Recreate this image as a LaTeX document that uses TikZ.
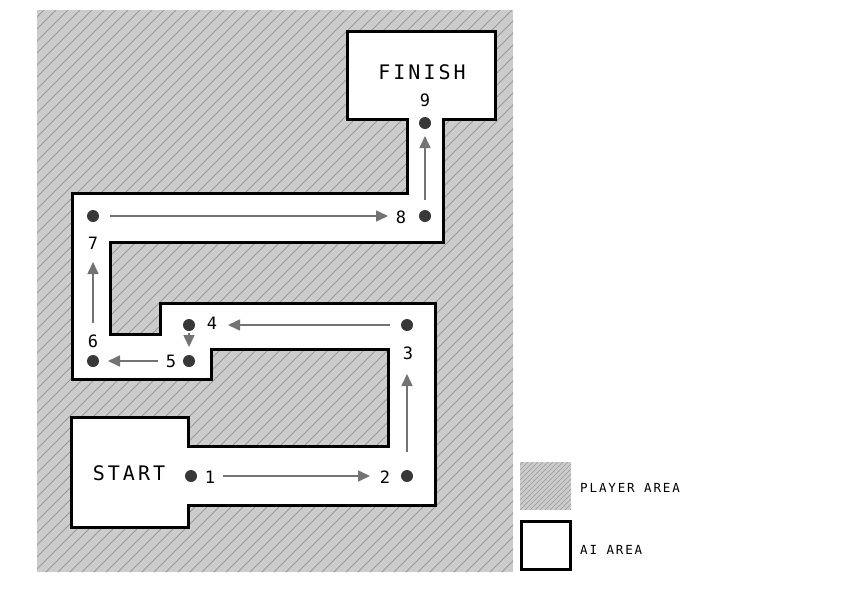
\documentclass[tikz,border=0pt]{standalone}
\usepackage{fontspec}
\setmainfont[LetterSpace=15]{DejaVu Sans Mono}
\usetikzlibrary{arrows.meta}

\tikzset{
  wall/.style={draw=black,line width=3pt,line join=miter,fill=white},
  hatchline/.style={draw=black!40,line width=0.8pt},
  dot/.style={circle,fill=black!78,minimum size=12pt,inner sep=0pt},
  num/.style={font=\fontsize{17}{17}\selectfont,inner sep=0pt},
  big/.style={font=\fontsize{20}{20}\selectfont,inner sep=0pt},
  legend/.style={font=\fontsize{12.5}{12.5}\selectfont,inner sep=0pt,anchor=west},
  go/.style={draw=black!55,line width=1.6pt,-{Triangle[length=12pt,width=11pt]}},
}

\begin{document}
\begin{tikzpicture}[x=1pt,y=-1pt]
\useasboundingbox (0,0) rectangle (842,595);
% player area
\fill[black!20] (37,10) rectangle (513,572);
\begin{scope}
\clip (37,10) rectangle (513,572);
\foreach \x in {-530,-518,...,520} \draw[hatchline] (\x,572) -- (\x+562,10);
\end{scope}
% AI track
\draw[wall] (71,417) -- (188,417) -- (188,446) -- (388,446) -- (388,349)
  -- (211,349) -- (211,379) -- (72,379) -- (72,193) -- (407,193)
  -- (407,119) -- (347,119) -- (347,31) -- (495,31) -- (495,119)
  -- (443,119) -- (443,242) -- (110,242) -- (110,334) -- (160,334)
  -- (160,303) -- (435,303) -- (435,505) -- (188,505) -- (188,527)
  -- (71,527) -- cycle;
\node[big] (start) at (129,473) {START};
\node[big] (finish) at (422,72) {FINISH};
% waypoints
\node[dot] (p1) at (191,476) {};
\node[dot] (p2) at (407,476) {};
\node[dot] (p3) at (407,325) {};
\node[dot] (p4) at (189,325) {};
\node[dot] (p5) at (189,361) {};
\node[dot] (p6) at (93,361) {};
\node[dot] (p7) at (93,216) {};
\node[dot] (p8) at (425,216) {};
\node[dot] (p9) at (425,123) {};
\node[num] (l1) at (210,477) {1};
\node[num] (l2) at (385,477) {2};
\node[num] (l3) at (408,353) {3};
\node[num] (l4) at (212,323) {4};
\node[num] (l5) at (171,361) {5};
\node[num] (l6) at (93,341) {6};
\node[num] (l7) at (93,243) {7};
\node[num] (l8) at (401,217) {8};
\node[num] (l9) at (425,100) {9};
% route
\draw[go,shorten <=32pt,shorten >=37pt] (p1.center) -- (p2.center);
\draw[go,shorten <=24pt,shorten >=49pt] (p2.center) -- (p3.center);
\draw[go,shorten <=17pt,shorten >=39pt] (p3.center) -- (p4.center);
\draw[go,shorten <=8pt,shorten >=14pt] (p4.center) -- (p5.center);
\draw[go,shorten <=31pt,shorten >=15pt] (p5.center) -- (p6.center);
\draw[go,shorten <=38pt,shorten >=46pt] (p6.center) -- (p7.center);
\draw[go,shorten <=17pt,shorten >=37pt] (p7.center) -- (p8.center);
\draw[go,shorten <=16pt,shorten >=13pt] (p8.center) -- (p9.center);
% legend
\fill[black!20] (520,462) rectangle (571,510);
\begin{scope}
\clip (520,462) rectangle (571,510);
\foreach \x in {470,475,...,575} \draw[hatchline,line width=0.6pt] (\x,510) -- (\x+48,462);
\end{scope}
\draw[line width=3pt] (521.5,521.5) rectangle (570.5,569.5);
\node[legend] (lplayer) at (580,488) {PLAYER AREA};
\node[legend] (lai) at (580,550) {AI AREA};
\end{tikzpicture}
\end{document}
